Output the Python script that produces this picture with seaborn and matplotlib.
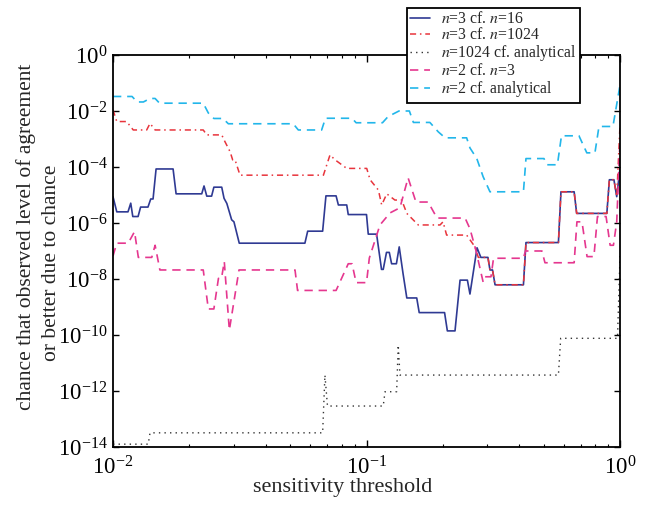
import matplotlib
matplotlib.use("Agg")
import numpy as np
import pandas as pd
import matplotlib.pyplot as plt
import matplotlib.ticker as mticker
import seaborn as sns

# ---- data: sensitivity threshold vs. chance of agreement ----
n3_n16_x = [0.0100, 0.01035, 0.01146, 0.01175, 0.01197, 0.01256, 0.01285, 0.01374, 0.01409, 0.01439,
            0.01479, 0.01726, 0.01774, 0.02239, 0.02286, 0.02344, 0.02449, 0.02500, 0.02685, 0.02742,
            0.02812, 0.02938, 0.03000, 0.03148, 0.05715, 0.05861, 0.06714, 0.06918, 0.07586, 0.07745,
            0.08356, 0.08472, 0.1000, 0.1016, 0.1096, 0.1146, 0.1164, 0.1199, 0.1230, 0.1256,
            0.1312, 0.1346, 0.1393, 0.1442, 0.1578, 0.1614, 0.2032, 0.2084, 0.2234, 0.2339,
            0.2500, 0.2559, 0.2729, 0.2825, 0.3013, 0.3069, 0.3141, 0.3214, 0.4159, 0.4256,
            0.5715, 0.5848, 0.6592, 0.6745, 0.8872, 0.9078, 0.9462, 0.9705, 1.0]
n3_n16_y = [8.7e-6, 2.5e-6, 2.5e-6, 5.1e-6, 1.7e-6, 1.7e-6, 3.7e-6, 3.7e-6, 7.2e-6, 7.2e-6,
            8.5e-5, 8.5e-5, 1.1e-5, 1.1e-5, 2.1e-5, 9.1e-6, 9.1e-6, 1.9e-5, 1.9e-5, 7.6e-6,
            5.0e-6, 1.3e-6, 1.1e-6, 1.9e-7, 1.9e-7, 5.1e-7, 5.1e-7, 9.3e-6, 9.3e-6, 4.4e-6,
            4.4e-6, 2.0e-6, 2.0e-6, 4.0e-7, 4.0e-7, 2.2e-8, 2.2e-8, 8.9e-8, 8.9e-8, 3.5e-8,
            3.5e-8, 1.4e-7, 1.6e-8, 2.1e-9, 2.1e-9, 6.3e-10, 6.3e-10, 1.4e-10, 1.4e-10, 9.1e-9,
            9.1e-9, 2.9e-9, 1.3e-7, 5.9e-8, 5.9e-8, 2.1e-8, 2.1e-8, 6.2e-9, 6.2e-9, 2.0e-7,
            2.0e-7, 1.3e-5, 1.3e-5, 2.2e-6, 2.2e-6, 3.5e-5, 3.5e-5, 8.7e-6, 9.1e-5]

n3_n1024_x = [0.0100, 0.01035, 0.01132, 0.01202, 0.01358, 0.01400, 0.01466, 0.02270, 0.02344, 0.02685,
              0.02767, 0.02897, 0.02965, 0.03030, 0.03170, 0.06761, 0.07178, 0.07516, 0.08356, 0.1002,
              0.1033, 0.1114, 0.1148, 0.1202, 0.1294, 0.1377, 0.1442, 0.1600, 0.1950, 0.2004,
              0.2070, 0.2483, 0.2679, 0.2761, 0.3013, 0.3069, 0.3141, 0.3214, 0.4159, 0.4256,
              0.5715, 0.5848, 0.6592, 0.6745, 0.8872, 0.9078, 0.9462, 0.9705, 1.0]
n3_n1024_y = [1.1e-2, 4.2e-3, 4.2e-3, 2.1e-3, 2.1e-3, 3.6e-3, 2.1e-3, 2.1e-3, 1.4e-3, 1.4e-3,
              7.9e-4, 3.5e-4, 1.8e-4, 1.8e-4, 5.1e-5, 5.1e-5, 2.7e-4, 1.8e-4, 8.9e-5, 8.9e-5,
              3.5e-5, 1.5e-5, 4.4e-6, 1.1e-5, 6.6e-6, 6.6e-6, 2.2e-6, 8.5e-7, 8.5e-7, 1.1e-6,
              3.7e-7, 3.7e-7, 1.4e-7, 5.9e-8, 5.9e-8, 2.1e-8, 2.1e-8, 6.2e-9, 6.2e-9, 2.0e-7,
              2.0e-7, 1.3e-5, 1.3e-5, 2.2e-6, 2.2e-6, 3.5e-5, 3.5e-5, 8.7e-6, 3.2e-3]

n1024_an_x = [0.0100, 0.01377, 0.01400, 0.06714, 0.06855, 0.07015, 0.1164, 0.1183, 0.1315, 0.1334,
              0.1355, 0.5715, 0.5834, 0.9772, 1.0]
n1024_an_y = [1.26e-14, 1.26e-14, 3.2e-14, 3.2e-14, 3.7e-12, 2.9e-13, 2.9e-13, 9.4e-13, 9.4e-13, 4.4e-11,
              3.7e-12, 3.7e-12, 7.6e-11, 7.6e-11, 6.6e-8]

n2_n3_x = [0.0100, 0.01035, 0.01148, 0.01216, 0.01259, 0.01422, 0.01466, 0.01531, 0.02270, 0.02377,
           0.02500, 0.02606, 0.02679, 0.02748, 0.02877, 0.03141, 0.05224, 0.05346, 0.07586, 0.08472,
           0.08770, 0.09099, 0.1000, 0.1026, 0.1130, 0.1239, 0.1355, 0.1459, 0.1567, 0.1750,
           0.1897, 0.2449, 0.2559, 0.2698, 0.2884, 0.2931, 0.3097, 0.3170, 0.4159, 0.4236,
           0.4920, 0.5058, 0.6592, 0.6761, 0.7079, 0.7413, 0.7889, 0.8147, 0.8810, 0.9141,
           0.9419, 0.9705, 1.0]
n2_n3_y = [6.6e-8, 1.9e-7, 1.9e-7, 4.9e-7, 5.9e-8, 5.9e-8, 1.6e-7, 2.1e-8, 2.1e-8, 8.5e-10,
           8.5e-10, 1.05e-8, 1.05e-8, 4.2e-8, 1.5e-10, 2.1e-8, 2.1e-8, 3.9e-9, 3.9e-9, 3.5e-8,
           3.5e-8, 7.4e-9, 7.4e-9, 5.6e-8, 8.5e-7, 2.3e-6, 3.5e-6, 4.1e-5, 5.6e-6, 5.6e-6,
           1.5e-6, 1.5e-6, 6.2e-7, 1.1e-7, 7.8e-9, 1.2e-8, 1.2e-8, 5.5e-8, 5.5e-8, 1.0e-7,
           1.0e-7, 3.8e-8, 3.8e-8, 1.1e-6, 1.1e-6, 6.3e-8, 6.3e-8, 1.7e-6, 1.7e-6, 1.6e-7,
           1.6e-7, 1.1e-6, 9.1e-4]

n2_an_x = [0.0100, 0.01189, 0.01245, 0.01318, 0.01400, 0.01466, 0.01526, 0.02270, 0.02377, 0.02500,
           0.02716, 0.02851, 0.05140, 0.05383, 0.06653, 0.06887, 0.08770, 0.09099, 0.1156, 0.1216,
           0.1343, 0.1476, 0.1531, 0.1778, 0.1919, 0.2042, 0.2483, 0.2559, 0.2723, 0.2884,
           0.3069, 0.4159, 0.4256, 0.5012, 0.5152, 0.5662, 0.5875, 0.6887, 0.7396, 0.7962,
           0.8260, 0.9376, 1.0]
n2_an_y = [3.3e-2, 3.3e-2, 2.1e-2, 2.1e-2, 2.8e-2, 2.8e-2, 1.9e-2, 1.9e-2, 8.5e-3, 5.4e-3,
           5.4e-3, 3.5e-3, 3.5e-3, 2.1e-3, 2.1e-3, 5.5e-3, 5.5e-3, 3.8e-3, 3.8e-3, 6.3e-3,
           1.0e-2, 1.0e-2, 3.9e-3, 3.9e-3, 1.8e-3, 1.1e-3, 1.1e-3, 4.8e-4, 2.0e-4, 4.5e-5,
           1.3e-5, 1.3e-5, 2.0e-4, 2.0e-4, 1.2e-4, 1.2e-4, 1.3e-3, 1.3e-3, 3.2e-4, 3.2e-4,
           2.8e-3, 2.8e-3, 8.5e-2]

series_labels = [r"$n$=3 cf. $n$=16", r"$n$=3 cf. $n$=1024", r"$n$=1024 cf. analytical",
                 r"$n$=2 cf. $n$=3", r"$n$=2 cf. analytical"]

x_ticks = [1e-2, 1e-1, 1e0]
y_ticks = [1e-14, 1e-12, 1e-10, 1e-8, 1e-6, 1e-4, 1e-2, 1e0]

ylabel_lines = ["chance that observed level of agreement", "or better due to chance"]
xlabel_text = "sensitivity threshold"

# ---- style ----
sns.set_theme(style="ticks")
plt.rcParams["font.family"] = ["Liberation Serif", "DejaVu Serif"]
plt.rcParams["mathtext.fontset"] = "stix"
plt.rcParams.update({
    "axes.edgecolor": "black",
    "axes.linewidth": 1.3,
    "xtick.direction": "in",
    "ytick.direction": "in",
    "xtick.top": True,
    "ytick.right": True,
    "xtick.major.size": 5,
    "ytick.major.size": 4,
    "xtick.minor.size": 2.5,
    "ytick.minor.size": 2.5,
    "xtick.major.width": 1.0,
    "ytick.major.width": 1.0,
    "xtick.minor.width": 0.8,
    "xtick.color": "black",
    "ytick.color": "black",
})

fig = plt.figure(figsize=(6.55, 5.13), dpi=100)
ax = fig.add_axes([0.1725, 0.1287, 0.7741, 0.7641])
ax.set_xscale("log")
ax.set_yscale("log")

styles = [
    (n3_n16_x, n3_n16_y, "#2f3a93", "-", 1.2),
    (n3_n1024_x, n3_n1024_y, "#e8343c", (0, (4, 2.5, 1, 2.5)), 1.1),
    (n1024_an_x, n1024_an_y, "#333333", (0, (1, 3)), 1.0),
    (n2_n3_x, n2_n3_y, "#e5378f", (0, (5, 3.5)), 1.2),
    (n2_an_x, n2_an_y, "#22b6ea", (0, (5, 3.5)), 1.2),
]

for (xs, ys, color, ls, lw), label in zip(styles, series_labels):
    df = pd.DataFrame({"threshold": xs, "chance": ys})
    sns.lineplot(data=df, x="threshold", y="chance", ax=ax, color=color,
                 linestyle=ls, linewidth=lw, estimator=None, sort=False,
                 label=label, legend=False)

ax.set_xlim(1e-2, 1e0)
ax.set_ylim(1e-14, 1e0)
ax.set_xticks(x_ticks)
ax.xaxis.set_minor_locator(mticker.LogLocator(base=10, subs=np.arange(2, 10)))
ax.xaxis.set_minor_formatter(mticker.NullFormatter())
ax.set_yticks(y_ticks)
ax.yaxis.set_minor_locator(mticker.NullLocator())
ax.xaxis.set_major_formatter(mticker.LogFormatterSciNotation())
ax.yaxis.set_major_formatter(mticker.LogFormatterSciNotation())
ax.tick_params(axis="both", which="major", labelsize=16.5)
ax.tick_params(axis="x", which="major", pad=7)
ax.tick_params(axis="y", which="major", pad=4)

ax.set_xlabel(xlabel_text, fontsize=16)
ax.xaxis.set_label_coords(0.453, -0.078)
ax.set_ylabel("")
# two-line vertical axis title
fig.text(0.0400, 0.538, ylabel_lines[0], rotation=90, ha="center", va="center", fontsize=15.5)
fig.text(0.0785, 0.4873, ylabel_lines[1], rotation=90, ha="center", va="center", fontsize=15.5)

leg = ax.legend(loc="upper right", bbox_to_anchor=(0.921, 1.12), borderaxespad=0,
                fontsize=11.3, handlelength=1.3, handletextpad=0.7, labelspacing=0.0,
                borderpad=0.22, fancybox=False, framealpha=1, edgecolor="black")
leg.get_frame().set_linewidth(1.3)

fig.savefig("out.png", dpi=100)
